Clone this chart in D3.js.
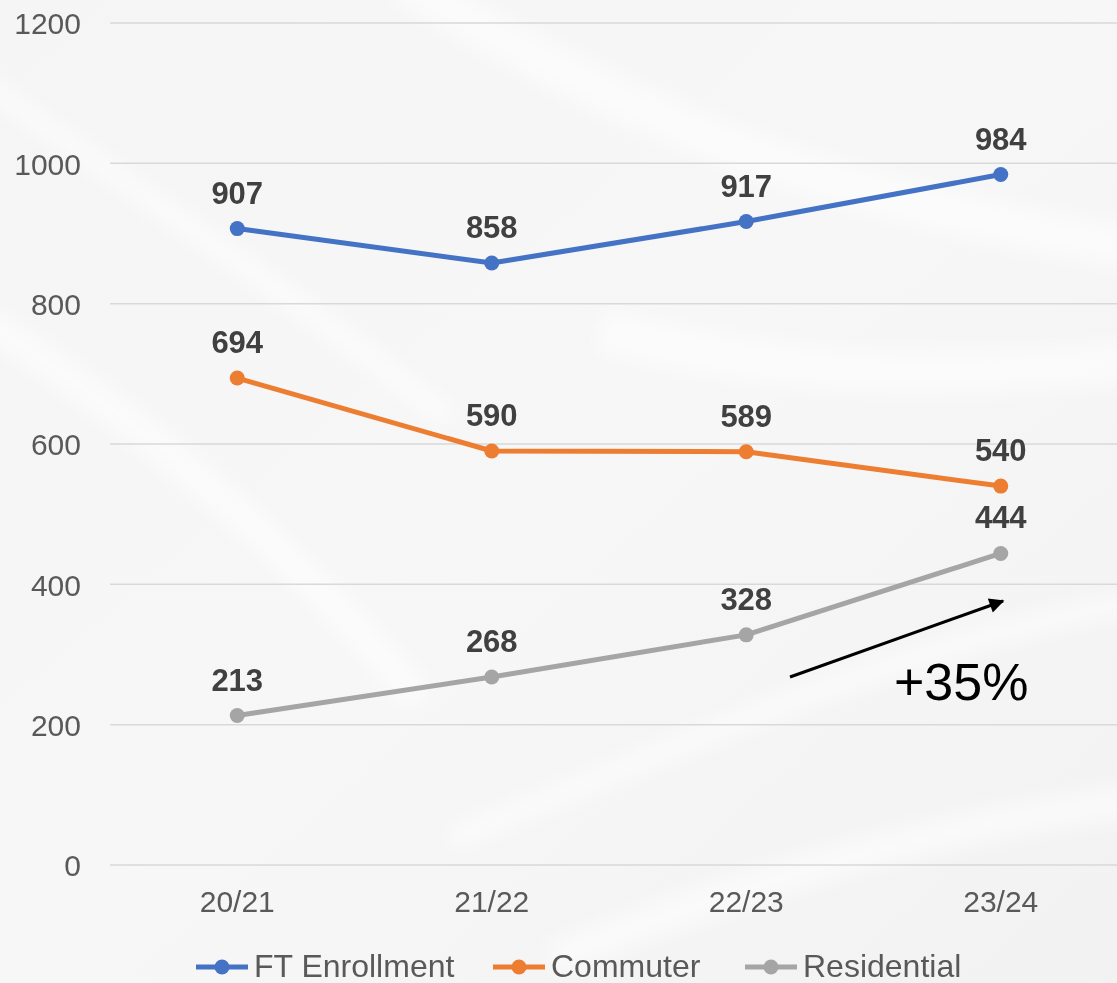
<!DOCTYPE html>
<html>
<head>
<meta charset="utf-8">
<script src="https://cdn.jsdelivr.net/npm/d3@7"></script>
<style>
  body { margin: 0; overflow: hidden; }
  svg { display: block; font-family: "Liberation Sans", Arial, sans-serif; }
</style>
</head>
<body>
<svg id="chart" width="1117" height="983"></svg>
<script>
const years = ["20/21", "21/22", "22/23", "23/24"];
const ftEnrollment = [907, 858, 917, 984];
const commuter = [694, 590, 589, 540];
const residential = [213, 268, 328, 444];
const yTicks = [0, 200, 400, 600, 800, 1000, 1200];

const series = [
  { name: "FT Enrollment", values: ftEnrollment, color: "#4472C4", legendX: 196 },
  { name: "Commuter", values: commuter, color: "#ED7D31", legendX: 493 },
  { name: "Residential", values: residential, color: "#A5A5A5", legendX: 745 }
];

const svg = d3.select("#chart");
const width = 1117, height = 983;

// background: pale grey with soft white swooshes
const defs = svg.append("defs");
const bg = defs.append("linearGradient").attr("id", "bg")
  .attr("x1", "0").attr("y1", "0").attr("x2", "1").attr("y2", "1");
bg.append("stop").attr("offset", "0%").attr("stop-color", "#f5f5f5");
bg.append("stop").attr("offset", "50%").attr("stop-color", "#f7f7f7");
bg.append("stop").attr("offset", "100%").attr("stop-color", "#f2f2f2");
defs.append("filter").attr("id", "blur").append("feGaussianBlur").attr("stdDeviation", 10);

svg.append("rect").attr("width", width).attr("height", height).attr("fill", "url(#bg)");

const swoosh = svg.append("g").attr("filter", "url(#blur)").attr("fill", "none").attr("stroke", "#ffffff");
[
  "M-50,60 C150,200 300,300 450,420",
  "M-50,300 C150,420 300,560 420,700",
  "M400,-20 C600,100 800,200 1150,250",
  "M450,840 C650,760 900,640 1150,600",
  "M550,960 C750,880 950,820 1150,800",
  "M600,330 C800,380 950,380 1150,360"
].forEach((d, i) => {
  swoosh.append("path").attr("d", d).attr("stroke-width", 24 + (i % 3) * 10).attr("opacity", 0.55);
});

const x = d3.scaleBand().domain(years).range([110, 1128]);
const y = d3.scaleLinear().domain([0, 1200]).range([865, 23]);

// gridlines
svg.append("g")
  .selectAll("line").data(yTicks).join("line")
  .attr("x1", 110).attr("x2", width)
  .attr("y1", d => y(d)).attr("y2", d => y(d))
  .attr("stroke", "#d9d9d9").attr("stroke-width", 1.5);

// y axis labels
const yAxis = d3.axisLeft(y).tickValues(yTicks).tickFormat(d3.format("d")).tickSize(0).tickPadding(0);
svg.append("g").attr("transform", "translate(81,0)").call(yAxis)
  .call(g => g.select(".domain").remove())
  .selectAll("text")
  .attr("font-size", 30).attr("fill", "#595959").attr("font-family", "Liberation Sans, Arial, sans-serif")
  .attr("dy", "0.36em");

// x axis labels
const xAxis = d3.axisBottom(x).tickSize(0).tickPadding(0);
svg.append("g").attr("transform", "translate(0,891)").call(xAxis)
  .call(g => g.select(".domain").remove())
  .selectAll("text")
  .attr("font-size", 30).attr("fill", "#595959").attr("font-family", "Liberation Sans, Arial, sans-serif");

const cx = d => x(d) + x.bandwidth() / 2;
const line = d3.line().x((d, i) => cx(years[i])).y(d => y(d));

series.forEach(s => {
  const g = svg.append("g");
  g.append("path").datum(s.values)
    .attr("d", line).attr("fill", "none")
    .attr("stroke", s.color).attr("stroke-width", 5).attr("stroke-linejoin", "round");
  g.selectAll("circle").data(s.values).join("circle")
    .attr("cx", (d, i) => cx(years[i])).attr("cy", d => y(d)).attr("r", 7.5)
    .attr("fill", s.color);
  g.selectAll("text").data(s.values).join("text")
    .attr("x", (d, i) => cx(years[i])).attr("y", d => y(d) - 25)
    .attr("text-anchor", "middle").attr("font-size", 31).attr("font-weight", "bold")
    .attr("fill", "#404040").text(d => d);
});

// legend
series.forEach(s => {
  const g = svg.append("g");
  g.append("line").attr("x1", s.legendX).attr("x2", s.legendX + 52)
    .attr("y1", 967).attr("y2", 967).attr("stroke", s.color).attr("stroke-width", 5);
  g.append("circle").attr("cx", s.legendX + 26).attr("cy", 967).attr("r", 7.5).attr("fill", s.color);
  g.append("text").attr("x", s.legendX + 58).attr("y", 977)
    .attr("font-size", 32).attr("fill", "#595959").text(s.name);
});

// annotation arrow
defs.append("marker").attr("id", "arrow").attr("viewBox", "0 0 10 10")
  .attr("refX", 9).attr("refY", 5).attr("markerWidth", 6).attr("markerHeight", 5)
  .attr("orient", "auto").attr("markerUnits", "strokeWidth")
  .append("path").attr("d", "M0,0 L10,5 L0,10 z").attr("fill", "#000");
svg.append("line").attr("x1", 790).attr("y1", 677).attr("x2", 1003).attr("y2", 601)
  .attr("stroke", "#000").attr("stroke-width", 3).attr("marker-end", "url(#arrow)");
svg.append("text").attr("x", 894).attr("y", 700).attr("font-size", 52)
  .attr("fill", "#000").text("+35%");
</script>
</body>
</html>
